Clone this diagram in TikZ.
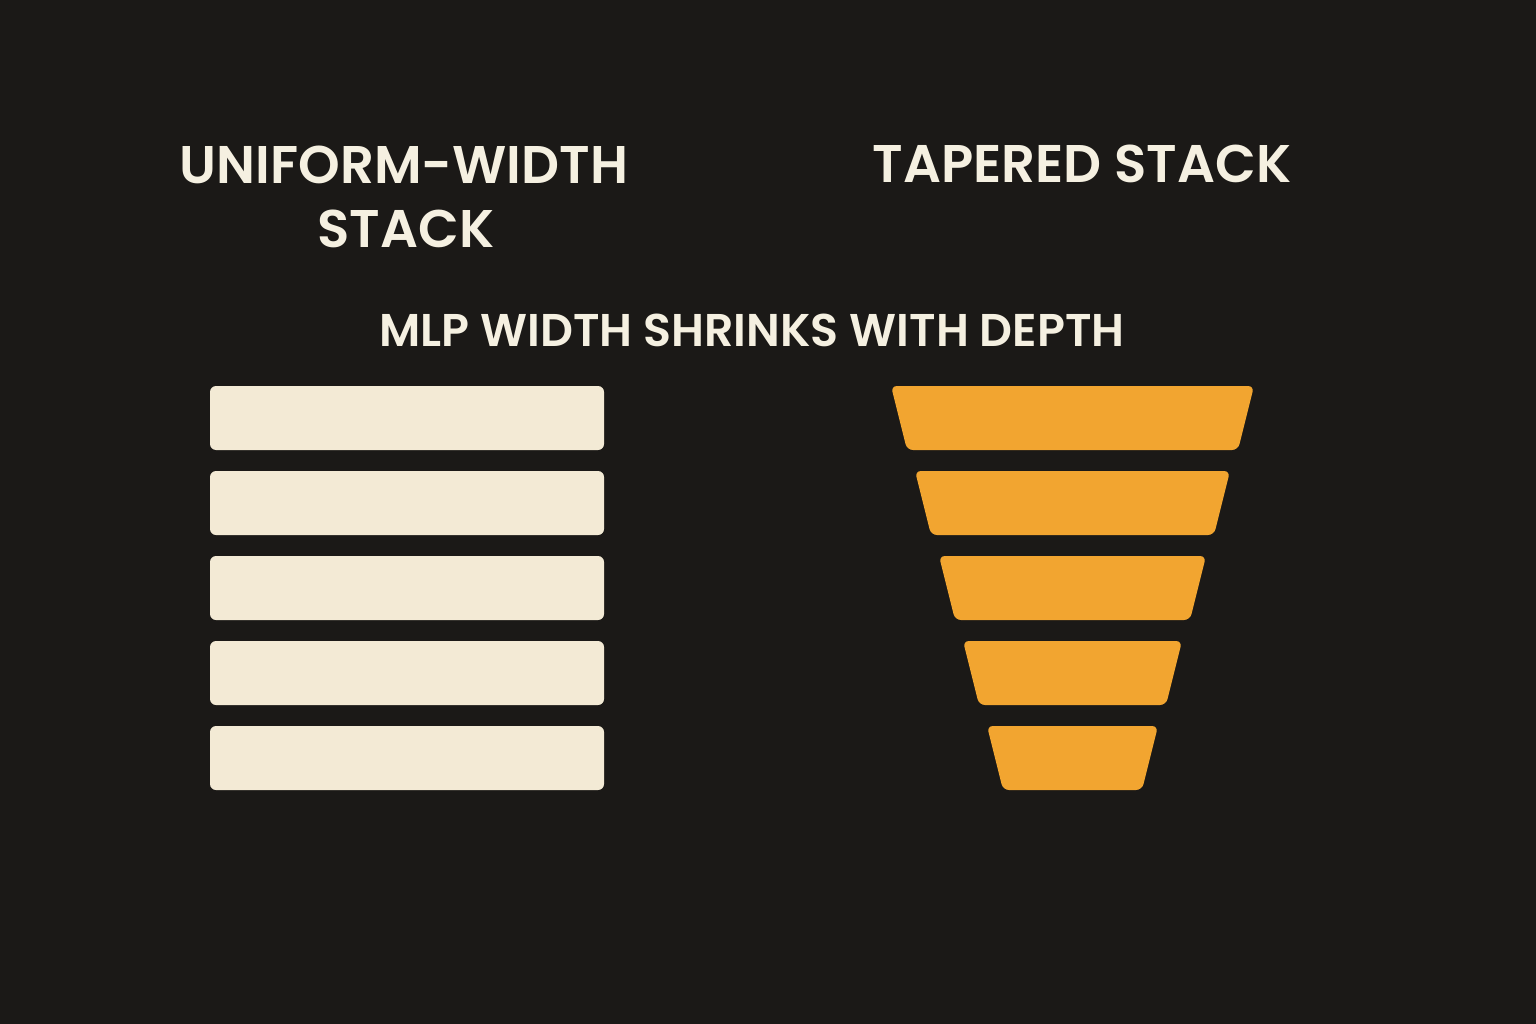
\documentclass[tikz,border=0pt]{standalone}
\usepackage{fontspec}
\setmainfont{Poppins}[BoldFont={Poppins SemiBold}]
\definecolor{bg}{HTML}{1B1917}
\definecolor{cream}{HTML}{F3EAD5}
\definecolor{orng}{HTML}{F2A530}
\definecolor{txt}{HTML}{F5F0E1}
\tikzset{
  title/.style={text=txt, font=\fontsize{53}{64}\selectfont\bfseries, anchor=base, inner sep=0pt, align=center},
  subtitle/.style={text=txt, font=\fontsize{45.9}{54}\selectfont\bfseries, anchor=base, inner sep=0pt},
  layerbox/.style={fill=cream, rounded corners=6pt},
  taper/.style={fill=orng, rounded corners=6pt}
}
\begin{document}
\begin{tikzpicture}[x=1pt,y=-1pt]
\fill[bg] (0,0) rectangle (1536,1024);
\useasboundingbox (0,0) rectangle (1536,1024);
\node[title] (t1) at (404,184) {UNIFORM-WIDTH};
\node[title] (t1b) at (406,248) {STACK};
\node[title] (t2) at (1082,183) {TAPERED STACK};
\node[subtitle] (sub) at (752,346) {MLP WIDTH SHRINKS WITH DEPTH};
\foreach \i in {0,...,4}{
  \pgfmathsetmacro{\yt}{386+85*\i}
  \pgfmathsetmacro{\yb}{\yt+64}
  \fill[layerbox] (210,\yt) rectangle (604,\yb);
  \pgfmathsetmacro{\xl}{891+24*\i}
  \pgfmathsetmacro{\xr}{1254-24*\i}
  \fill[taper] (\xl,\yt) -- (\xr,\yt) -- (\xr-16,\yb) -- (\xl+16,\yb) -- cycle;
}
\end{tikzpicture}
\end{document}
